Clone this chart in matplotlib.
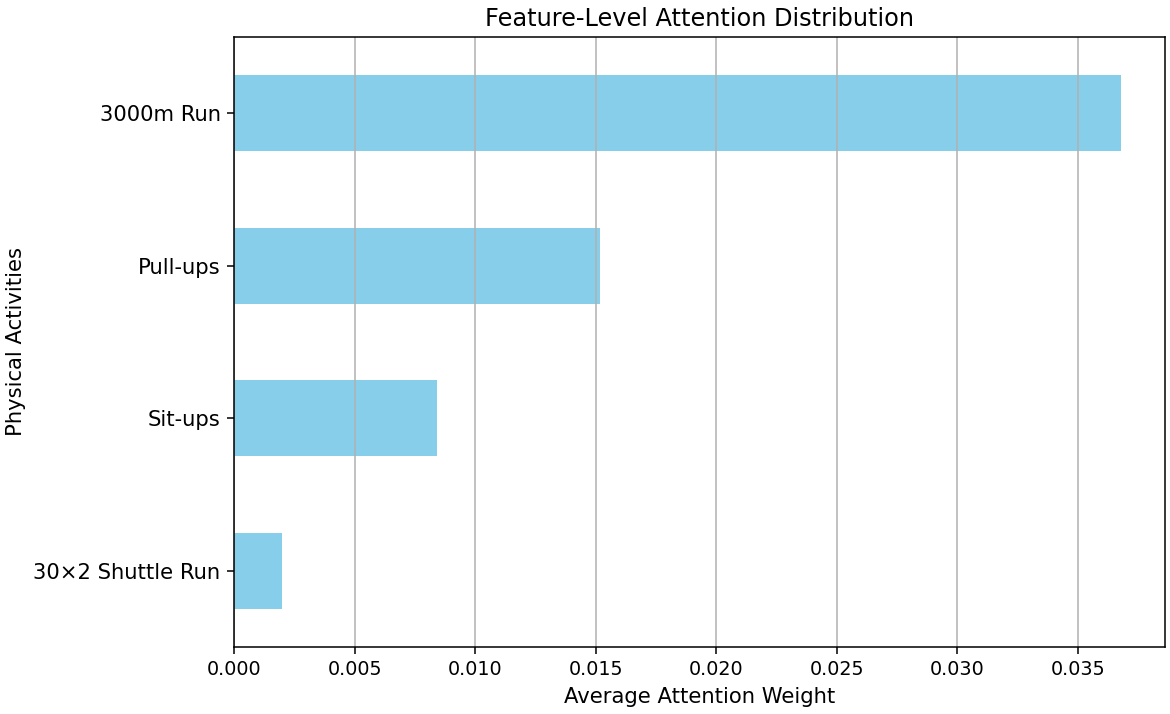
import matplotlib
matplotlib.use('Agg')
import matplotlib.pyplot as plt

# activities from bottom to top, as pandas barh draws them
activities = ['30×2 Shuttle Run', 'Sit-ups', 'Pull-ups', '3000m Run']
weights = [0.00198, 0.00841, 0.01520, 0.03678]

fig, ax = plt.subplots(figsize=(1170 / 138, 714 / 138), dpi=138)
ax.barh(range(len(activities)), weights, height=0.5, color='skyblue')
ax.set_yticks(range(len(activities)))
ax.set_yticklabels(activities, fontsize=11)
ax.set_ylim(-0.5, len(activities) - 0.5)

ax.set_title('Feature-Level Attention Distribution', fontsize=12.5)
ax.set_xlabel('Average Attention Weight', fontsize=11)
ax.set_ylabel('Physical Activities', fontsize=11)
ax.grid(True, axis='x')

plt.subplots_adjust(left=234 / 1170, right=1165 / 1170, top=1 - 37 / 714, bottom=1 - 647 / 714)
plt.savefig('out.png', dpi=138)
